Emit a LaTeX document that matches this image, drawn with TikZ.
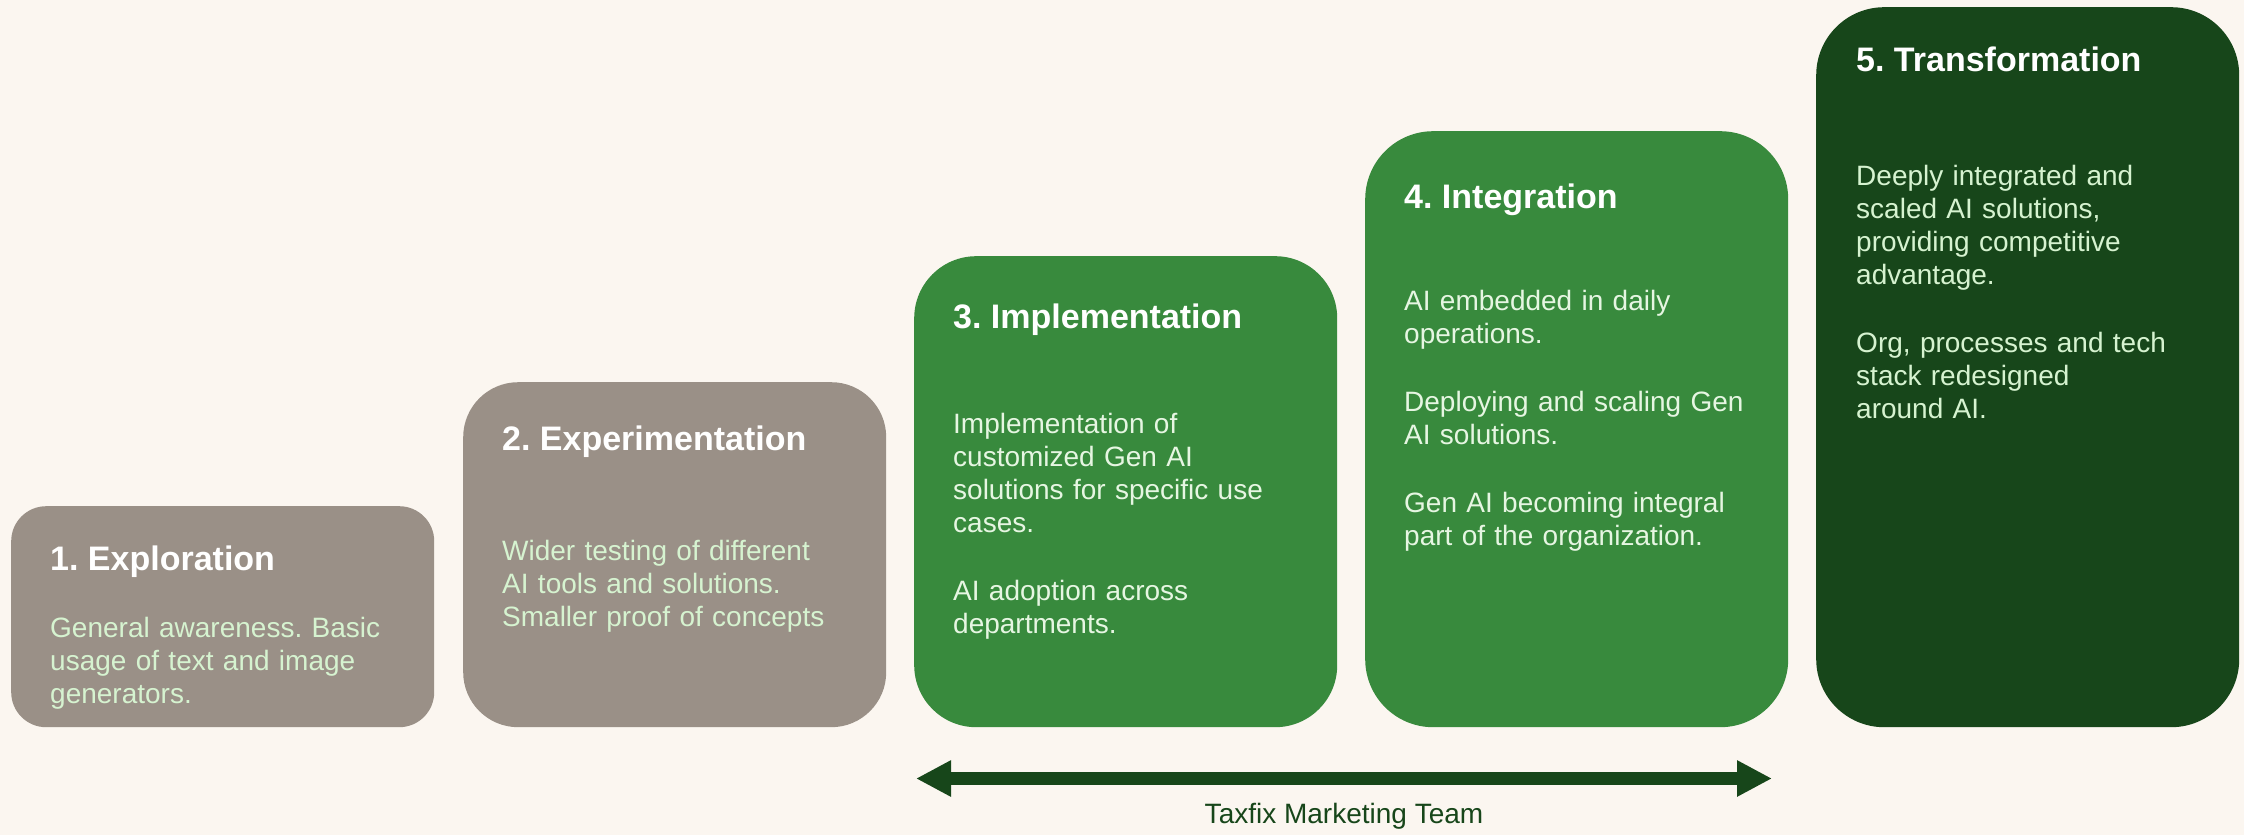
\documentclass[tikz,border=0pt]{standalone}
\usepackage{fontspec}
\setmainfont{Liberation Sans}
\usetikzlibrary{arrows.meta}
\frenchspacing

\definecolor{paper}{HTML}{FBF6F0}
\definecolor{stone}{HTML}{9A9087}
\definecolor{leaf}{HTML}{388A3D}
\definecolor{forest}{HTML}{17461A}
\definecolor{mint}{HTML}{D6F3D0}
\definecolor{palemint}{HTML}{E6F6E2}

\begin{document}
\begin{tikzpicture}[x=1pt,y=-1pt,
    stage/.style={rectangle,inner sep=0,anchor=north west,minimum width=423pt},
    heading/.style={anchor=base west,inner sep=0,text=white,
        font={\fontsize{34}{40}\selectfont\bfseries}},
    body/.style={anchor=base west,inner sep=0,align=left,text width=384pt,
        font={\fontsize{28}{33}\selectfont}},
    team/.style={line width=13pt,forest,
        {Triangle[length=35pt,width=34pt]}-{Triangle[length=35pt,width=34pt]}}]
\useasboundingbox[fill=paper](0,0) rectangle (2244,835);

% the five stages
\node[stage,fill=stone,minimum height=221pt,rounded corners=35pt] (s1) at (11,506) {};
\node[stage,fill=stone,minimum height=345pt,rounded corners=55pt] (s2) at (463,382) {};
\node[stage,fill=leaf,minimum height=471pt,rounded corners=62pt] (s3) at (914,256) {};
\node[stage,fill=leaf,minimum height=596pt,rounded corners=68pt] (s4) at (1365,131) {};
\node[stage,fill=forest,minimum height=720pt,rounded corners=68pt] (s5) at (1816,7) {};

\node[heading] (t1) at (50,570) {1. Exploration};
\node[body,text=mint] (b1) at (50,637) {General awareness. Basic\\usage of text and image\\generators.};

\node[heading] (t2) at (502,450) {2. Experimentation};
\node[body,text=mint] (b2) at (502,560) {Wider testing of different\\AI tools and solutions.\\Smaller proof of concepts};

\node[heading] (t3) at (953,328) {3. Implementation};
\node[body,text=palemint] (b3) at (953,433) {Implementation of\\customized Gen AI\\solutions for specific use\\cases.\\[35pt]AI adoption across\\departments.};

\node[heading] (t4) at (1404,208) {4. Integration};
\node[body,text=palemint] (b4) at (1404,310) {AI embedded in daily\\operations.\\[35pt]Deploying and scaling Gen\\AI solutions.\\[35pt]Gen AI becoming integral\\part of the organization.};

\node[heading] (t5) at (1856,71) {5. Transformation};
\node[body,text=mint] (b5) at (1856,185) {Deeply integrated and\\scaled AI solutions,\\providing competitive\\advantage.\\[35pt]Org, processes and tech\\stack redesigned\\around AI.};

% team span
\coordinate (teamL) at (916,778.5);
\coordinate (teamR) at (1772,778.5);
\draw[team] (teamL) -- (teamR);
\node[anchor=base,inner sep=0,text=forest,font={\fontsize{28}{33}\selectfont}] (teamlabel) at (1344,823) {Taxfix Marketing Team};
\end{tikzpicture}
\end{document}
